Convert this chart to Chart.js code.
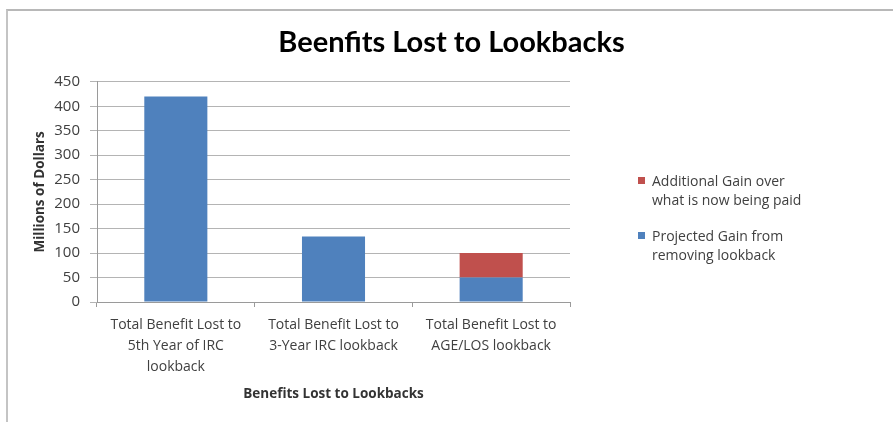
<!DOCTYPE html>
<html>
<head>
<meta charset="utf-8">
<script src="https://cdn.jsdelivr.net/npm/chart.js@4"></script>
<style>
  body { margin: 0; background: #fff; width: 893px; height: 422px; overflow: hidden; position: relative; }
  #frame { position: absolute; left: 6px; top: 9px; width: 887px; height: 413px;
           border-top: 2px solid #b8b8b8; border-left: 2px solid #c4c4c4; }
  #c { position: absolute; left: 0; top: 0; }
  #legend { position: absolute; left: 638px; top: 171px; font-family: "Open Sans", sans-serif;
            font-size: 14px; color: #404040; line-height: 19px; }
  .item { position: relative; padding-left: 14px; margin-bottom: 17px; }
  .swatch { position: absolute; left: 0; top: 6px; width: 7px; height: 7px; }
</style>
</head>
<body>
<div id="frame"></div>
<canvas id="c" width="893" height="422"></canvas>
<div id="legend"></div>
<script>
// CHART DATA
const categories = [
  ['Total Benefit Lost to', '5th Year of IRC', 'lookback'],
  ['Total Benefit Lost to', '3-Year IRC lookback'],
  ['Total Benefit Lost to', 'AGE/LOS lookback']
];
const projectedGain = [420, 134, 50];
const additionalGain = [null, null, 50];
const yTicks = { min: 0, max: 450, step: 50 };

const seriesLabels = {
  projected: ['Projected Gain from', 'removing lookback'],
  additional: ['Additional Gain over', 'what is now being paid']
};

const BLUE = '#4F81BD';
const RED = '#C0504D';
const FONT = '"Open Sans", sans-serif';

const chart = new Chart(document.getElementById('c'), {
  type: 'bar',
  data: {
    labels: categories,
    datasets: [
      { label: seriesLabels.projected.join(' '), data: projectedGain, backgroundColor: BLUE,
        barPercentage: 0.4, categoryPercentage: 1 },
      { label: seriesLabels.additional.join(' '), data: additionalGain, backgroundColor: RED,
        barPercentage: 0.4, categoryPercentage: 1 }
    ]
  },
  options: {
    responsive: false,
    animation: false,
    layout: { padding: { left: 10, right: 0, top: 0, bottom: 0 } },
    plugins: {
      legend: { display: false },
      tooltip: { enabled: false },
      title: {
        display: true,
        text: 'Beenfits Lost to Lookbacks',
        color: '#000',
        font: { family: 'Lato, sans-serif', size: 29, weight: 'bold', lineHeight: 1.2 },
        padding: { top: 25, bottom: 22 }
      }
    },
    scales: {
      x: {
        stacked: true,
        grid: { drawOnChartArea: false, drawTicks: true, tickLength: 5, color: '#9a9a9a' },
        border: { color: '#9a9a9a' },
        ticks: { color: '#404040', padding: 8, maxRotation: 0, autoSkip: false,
                 font: { family: FONT, size: 14, lineHeight: 1.5 } },
        title: { display: true, text: 'Benefits Lost to Lookbacks', color: '#333',
                 font: { family: FONT, size: 13.5, weight: 'bold', lineHeight: 1.2 },
                 padding: { top: 0, bottom: 20 } },
        afterFit: scale => { scale.height = 120; }
      },
      y: {
        stacked: true,
        min: yTicks.min,
        max: yTicks.max,
        grid: { color: '#b4b4b4', tickLength: 7 },
        border: { color: '#9a9a9a' },
        ticks: { stepSize: yTicks.step, color: '#404040', padding: 10,
                 font: { family: FONT, size: 15 } },
        title: { display: true, text: 'Millions of Dollars', color: '#333',
                 font: { family: FONT, size: 13.5, weight: 'bold', lineHeight: 1.2 },
                 padding: { top: 22, bottom: 0 } },
        afterFit: scale => { scale.width = 87; }
      },
      // empty axis that keeps room on the right for the legend
      legendRoom: {
        type: 'linear',
        position: 'right',
        grid: { display: false },
        border: { display: false },
        ticks: { display: false },
        afterFit: scale => { scale.width = 323; }
      }
    }
  }
});

// LEGEND (Excel lists stacked series top-down, so reversed)
const legend = document.getElementById('legend');
chart.data.datasets.slice().reverse().forEach(ds => {
  const lines = ds.backgroundColor === RED ? seriesLabels.additional : seriesLabels.projected;
  const item = document.createElement('div');
  item.className = 'item';
  item.innerHTML = '<span class="swatch" style="background:' + ds.backgroundColor + '"></span>' + lines.join('<br>');
  legend.appendChild(item);
});
</script>
</body>
</html>
